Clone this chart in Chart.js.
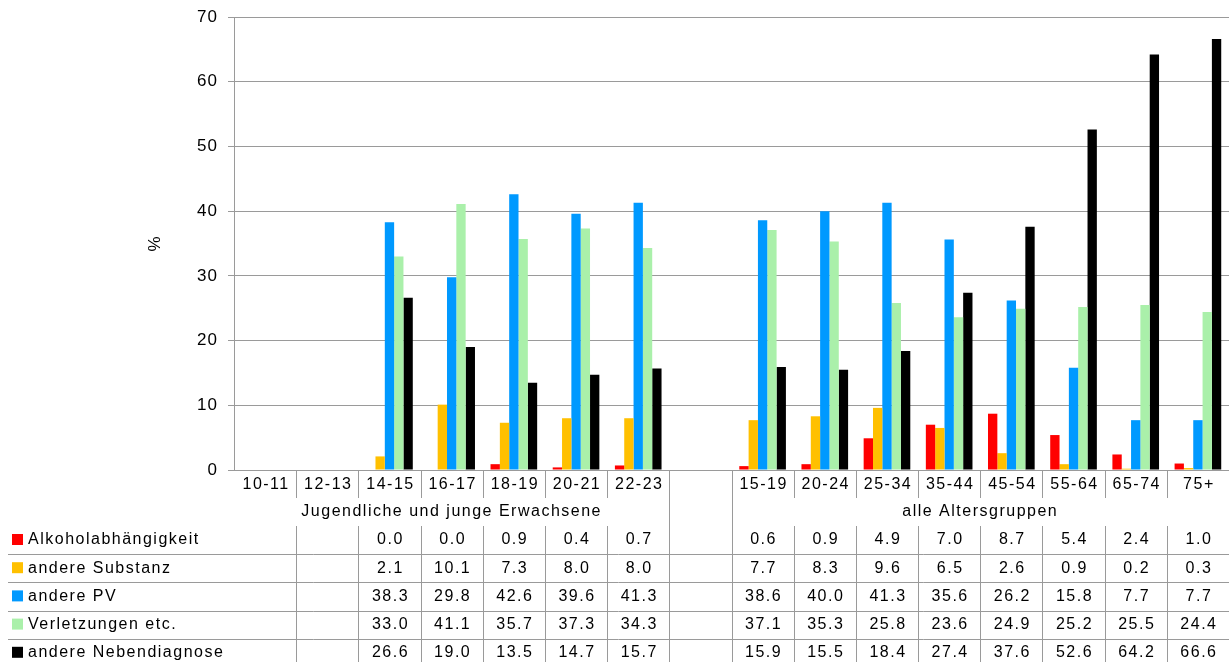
<!DOCTYPE html>
<html>
<head>
<meta charset="utf-8">
<script src="https://cdn.jsdelivr.net/npm/chart.js@4.4.0/dist/chart.umd.min.js"></script>
<style>
    body { margin: 0; background: #fff; }
    #wrap { width: 1232px; height: 662px; }
</style>
</head>
<body>
<div id="wrap"><canvas id="chart" width="1232" height="662"></canvas></div>
<script>
// Altersgruppen (Index 7 ist die Lücke zwischen den beiden Gruppen)
const categories = ['10-11', '12-13', '14-15', '16-17', '18-19', '20-21', '22-23', '',
    '15-19', '20-24', '25-34', '35-44', '45-54', '55-64', '65-74', '75+'];
const groupLabels = ['Jugendliche und junge Erwachsene', 'alle Altersgruppen'];

const alkohol     = [null, null, 0.0, 0.0, 0.9, 0.4, 0.7, null, 0.6, 0.9, 4.9, 7.0, 8.7, 5.4, 2.4, 1.0];
const substanz    = [null, null, 2.1, 10.1, 7.3, 8.0, 8.0, null, 7.7, 8.3, 9.6, 6.5, 2.6, 0.9, 0.2, 0.3];
const anderePV    = [null, null, 38.3, 29.8, 42.6, 39.6, 41.3, null, 38.6, 40.0, 41.3, 35.6, 26.2, 15.8, 7.7, 7.7];
const verletzung  = [null, null, 33.0, 41.1, 35.7, 37.3, 34.3, null, 37.1, 35.3, 25.8, 23.6, 24.9, 25.2, 25.5, 24.4];
const nebendiag   = [null, null, 26.6, 19.0, 13.5, 14.7, 15.7, null, 15.9, 15.5, 18.4, 27.4, 37.6, 52.6, 64.2, 66.6];

const yTicks = [0, 10, 20, 30, 40, 50, 60, 70];

const series = [
    { label: 'Alkoholabhängigkeit', data: alkohol, color: '#ff0000' },
    { label: 'andere Substanz', data: substanz, color: '#ffc000' },
    { label: 'andere PV', data: anderePV, color: '#0099ff' },
    { label: 'Verletzungen etc.', data: verletzung, color: '#aaf0aa' },
    { label: 'andere Nebendiagnose', data: nebendiag, color: '#000000' }
];

const FONT = '"Liberation Sans", Arial, sans-serif';
const LINE = '#9a9a9a';

// Datentabelle unter dem Diagramm
const tablePlugin = {
    id: 'dataTable',
    beforeDraw(chart) {
        chart.ctx.letterSpacing = '1px';
    },
    afterDraw(chart) {
        const ctx = chart.ctx;
        const xs = chart.scales.x;
        const area = chart.chartArea;
        const half = (xs.getPixelForValue(1) - xs.getPixelForValue(0)) / 2;
        const edge = i => xs.getPixelForValue(i) - half;   // linke Kante von Kategorie i
        const top = area.bottom;
        const row1 = top + 28;       // Ende Kategoriezeile
        const row2 = row1 + 28;      // Ende Gruppenzeile
        const rowH = 28.2;
        const bottom = chart.height;

        ctx.save();
        ctx.strokeStyle = LINE;
        ctx.lineWidth = 1;
        ctx.beginPath();
        for (let i = 1; i < categories.length; i++) {
            const x = Math.round(edge(i)) + 0.5;
            if (i === 7 || i === 8) {
                ctx.moveTo(x, top); ctx.lineTo(x, bottom);
            } else {
                ctx.moveTo(x, top); ctx.lineTo(x, row1);
                ctx.moveTo(x, row2); ctx.lineTo(x, bottom);
            }
        }
        for (let r = 1; r < series.length; r++) {
            const y = Math.round(row2 + r * rowH) + 0.5;
            ctx.moveTo(8, y); ctx.lineTo(area.right, y);
        }
        ctx.stroke();

        ctx.fillStyle = '#000';
        ctx.font = '16px ' + FONT;
        ctx.letterSpacing = '1.5px';
        ctx.textAlign = 'center';
        ctx.textBaseline = 'middle';
        categories.forEach((c, i) => {
            if (c) ctx.fillText(c, xs.getPixelForValue(i) + 1, top + 15);
        });
        ctx.fillText(groupLabels[0], (edge(0) + edge(7)) / 2, row1 + 14);
        ctx.fillText(groupLabels[1], (edge(8) + area.right) / 2, row1 + 14);

        series.forEach((s, r) => {
            const yc = row2 + r * rowH + 14;
            ctx.fillStyle = s.color;
            ctx.fillRect(12, yc - 6, 11, 11);
            ctx.fillStyle = '#000';
            ctx.textAlign = 'left';
            ctx.fillText(s.label, 28, yc);
            ctx.textAlign = 'center';
            s.data.forEach((v, i) => {
                if (v !== null) ctx.fillText(v.toFixed(1), xs.getPixelForValue(i) + 1, yc);
            });
        });
        ctx.restore();
    }
};

new Chart(document.getElementById('chart'), {
    type: 'bar',
    data: {
        labels: categories,
        datasets: series.map(s => ({
            label: s.label,
            data: s.data,
            backgroundColor: s.color,
            borderWidth: 0
        }))
    },
    options: {
        responsive: false,
        animation: false,
        datasets: {
            bar: { barPercentage: 1.0, categoryPercentage: 0.75 }
        },
        layout: {
            padding: { left: 145, right: 3, top: 17, bottom: 192 }
        },
        plugins: {
            legend: { display: false },
            tooltip: { enabled: false }
        },
        scales: {
            x: {
                grid: { display: false },
                border: { display: false },
                ticks: { display: false },
                afterFit: function(scale) { scale.height = 0; }
            },
            y: {
                min: 0,
                max: 70,
                afterBuildTicks: function(scale) {
                    scale.ticks = yTicks.map(v => ({ value: v }));
                },
                afterFit: function(scale) {
                    scale.width = 89;
                    scale.paddingTop = 0;
                    scale.paddingBottom = 0;
                },
                grid: { color: LINE, tickLength: 6 },
                border: { color: LINE },
                ticks: {
                    color: '#000',
                    padding: 10,
                    font: { family: FONT, size: 17 }
                },
                title: {
                    display: true,
                    text: '%',
                    color: '#000',
                    padding: 0,
                    font: { family: FONT, size: 17 }
                }
            }
        }
    },
    plugins: [tablePlugin]
});
</script>
</body>
</html>
